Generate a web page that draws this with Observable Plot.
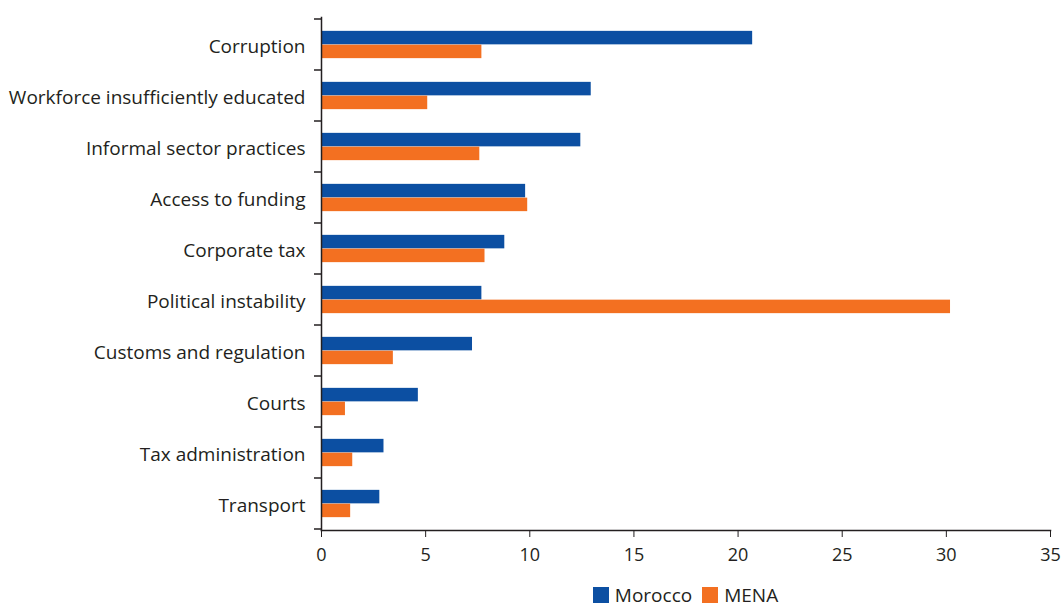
<!DOCTYPE html>
<html><head><meta charset="utf-8">
<script src="https://cdn.jsdelivr.net/npm/d3@7"></script>
<script src="https://cdn.jsdelivr.net/npm/@observablehq/plot@0.6"></script>
<style>
body{margin:0;background:#fff;font-family:"Open Sans",sans-serif;color:#231f20;position:relative;width:1064px;height:606px;overflow:hidden}
#legend{position:absolute;left:321px;right:14px;top:584px;display:flex;justify-content:center;align-items:center;font-size:19px;line-height:22px}
.item{display:flex;align-items:center;margin:0 5px}
.sw{width:16px;height:16px;display:inline-block;margin-right:6px}
</style></head><body>
<div id="chart"></div>
<div id="legend"></div>
<script>
const categories = ["Corruption","Workforce insufficiently educated","Informal sector practices","Access to funding","Corporate tax","Political instability","Customs and regulation","Courts","Tax administration","Transport"];
const morocco = [20.7, 12.95, 12.45, 9.8, 8.8, 7.7, 7.25, 4.65, 3.0, 2.8];
const mena = [7.7, 5.1, 7.6, 9.9, 7.85, 30.2, 3.45, 1.15, 1.5, 1.4];
const seriesNames = ["Morocco","MENA"];
const seriesColors = ["#0c4fa2","#f37021"];
const xTicks = [0,5,10,15,20,25,30,35];

const dataMorocco = categories.map((c,i)=>({category:c, series:seriesNames[0], value:morocco[i]}));
const dataMena = categories.map((c,i)=>({category:c, series:seriesNames[1], value:mena[i]}));

const W = 1064, H = 575, mT = 17, mB = 45;
const band = (H - mT - mB) / categories.length;
const barH = 13.8;
const off = (band - 2*barH)/2;

const plot = Plot.plot({
  width: W, height: H,
  marginLeft: 321, marginRight: 14, marginTop: mT, marginBottom: mB,
  style: {fontFamily: "'Open Sans', sans-serif", color: "#231f20", background: "#fff"},
  x: {domain: [0,35], ticks: xTicks},
  y: {domain: categories, padding: 0},
  marks: [
    Plot.barX(dataMorocco, {x: "value", y: "category", fill: seriesColors[0], insetTop: off, insetBottom: band - off - barH}),
    Plot.barX(dataMena, {x: "value", y: "category", fill: seriesColors[1], insetTop: off + barH, insetBottom: off}),
    Plot.frame({anchor: "left", stroke: "#231f20", strokeWidth: 1.5}),
    Plot.frame({anchor: "bottom", stroke: "#231f20", strokeWidth: 1.5}),
    Plot.axisX({ticks: xTicks, tickSize: 7, tickPadding: 11, fontSize: 18, label: null, stroke: "#231f20"}),
    Plot.axisY({tickSize: 0, tickPadding: 16, fontSize: 19, label: null, dy: 2})
  ]
});

// boundary ticks on the y axis
const ys = plot.scale("y");
const xs = plot.scale("x");
const svg = d3.select(plot);
const x0 = xs.apply(0);
const bounds = categories.map(c => ys.apply(c)).concat([ys.apply(categories[categories.length-1]) + ys.bandwidth]);
svg.append("g").selectAll("line").data(bounds).join("line")
  .attr("x1", x0 - 7).attr("x2", x0).attr("y1", d=>d).attr("y2", d=>d)
  .attr("stroke", "#231f20").attr("stroke-width", 1.5);

document.getElementById("chart").appendChild(plot);

const legend = d3.select("#legend");
seriesNames.forEach((s,i)=>{
  const it = legend.append("div").attr("class","item");
  it.append("span").attr("class","sw").style("background", seriesColors[i]);
  it.append("span").text(s);
});
</script>
</body></html>
